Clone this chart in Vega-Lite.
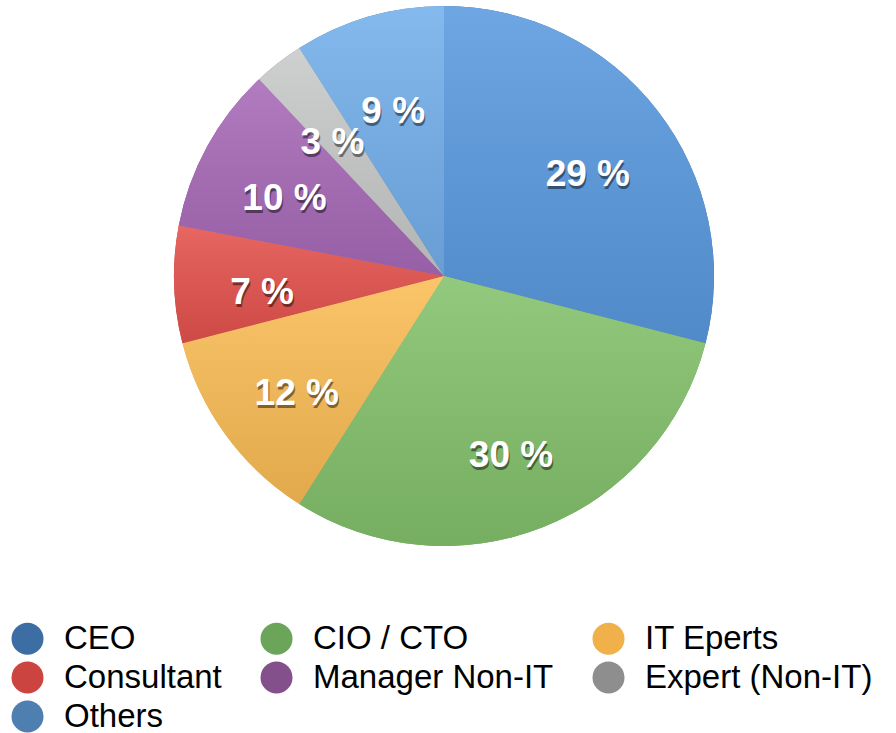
{
  "$schema": "https://vega.github.io/schema/vega-lite/v6.json",
  "width": 888,
  "height": 552,
  "padding": 0,
  "background": "white",
  "config": {"view": {"stroke": null}},
  "data": {
    "values": [
      {"role": "CEO", "pct": 29, "label": "29 %", "rank": 1},
      {"role": "CIO / CTO", "pct": 30, "label": "30 %", "rank": 2},
      {"role": "IT Eperts", "pct": 12, "label": "12 %", "rank": 3},
      {"role": "Consultant", "pct": 7, "label": "7 %", "rank": 4},
      {"role": "Manager Non-IT", "pct": 10, "label": "10 %", "rank": 5},
      {"role": "Expert (Non-IT)", "pct": 3, "label": "3 %", "rank": 6},
      {"role": "Others", "pct": 9, "label": "9 %", "rank": 7}
    ]
  },
  "encoding": {
    "theta": {"field": "pct", "type": "quantitative", "stack": true},
    "order": {"field": "rank", "type": "quantitative"}
  },
  "layer": [
    {
      "mark": {"type": "arc", "radius": 270},
      "encoding": {
        "color": {
          "field": "role",
          "type": "nominal",
          "scale": {
            "domain": ["CEO", "CIO / CTO", "IT Eperts", "Consultant", "Manager Non-IT", "Expert (Non-IT)", "Others"],
            "range": ["#3d6ea3", "#6aa55a", "#f0b04a", "#cc4440", "#84508c", "#8e8e8e", "#4e7fb0"]
          },
          "legend": {
            "orient": "none",
            "legendX": 11,
            "legendY": 622,
            "direction": "horizontal",
            "columns": 3,
            "title": null,
            "padding": 0,
            "symbolType": "circle",
            "symbolSize": 1024,
            "symbolStrokeWidth": 0,
            "symbolOpacity": 1,
            "labelFont": "Liberation Sans",
            "labelFontSize": 33,
            "labelColor": "#000000",
            "labelOffset": 20,
            "labelLimit": 400,
            "columnPadding": 38,
            "rowPadding": 5
          }
        }
      }
    },
    {
      "mark": {"type": "arc", "radius": 270},
      "encoding": {
        "fill": {
          "field": "role",
          "type": "nominal",
          "scale": {
            "domain": ["CEO", "CIO / CTO", "IT Eperts", "Consultant", "Manager Non-IT", "Expert (Non-IT)", "Others"],
            "range": ["#5a9ae0", "#84c26c", "#fbbd55", "#e5524d", "#a86ab8", "#c8caca", "#74b0ec"]
          },
          "legend": null
        }
      }
    },
    {
      "mark": {
        "type": "arc",
        "radius": 270,
        "fill": {
          "gradient": "linear",
          "x1": 0, "y1": 0, "x2": 0, "y2": 1,
          "stops": [
            {"offset": 0, "color": "rgba(255,255,255,0.12)"},
            {"offset": 1, "color": "rgba(0,0,0,0.10)"}
          ]
        }
      },
      "encoding": {}
    },
    {
      "mark": {
        "type": "text",
        "radius": 182,
        "font": "Liberation Sans",
        "fontWeight": "bold",
        "fontSize": 37,
        "fill": "#000000",
        "opacity": 0.45,
        "dx": 1,
        "dy": 14,
        "align": "center",
        "baseline": "middle"
      },
      "encoding": {"text": {"field": "label", "type": "nominal"}}
    },
    {
      "mark": {
        "type": "text",
        "radius": 182,
        "font": "Liberation Sans",
        "fontWeight": "bold",
        "fontSize": 37,
        "fill": "#ffffff",
        "dy": 11,
        "align": "center",
        "baseline": "middle"
      },
      "encoding": {"text": {"field": "label", "type": "nominal"}}
    }
  ]
}
